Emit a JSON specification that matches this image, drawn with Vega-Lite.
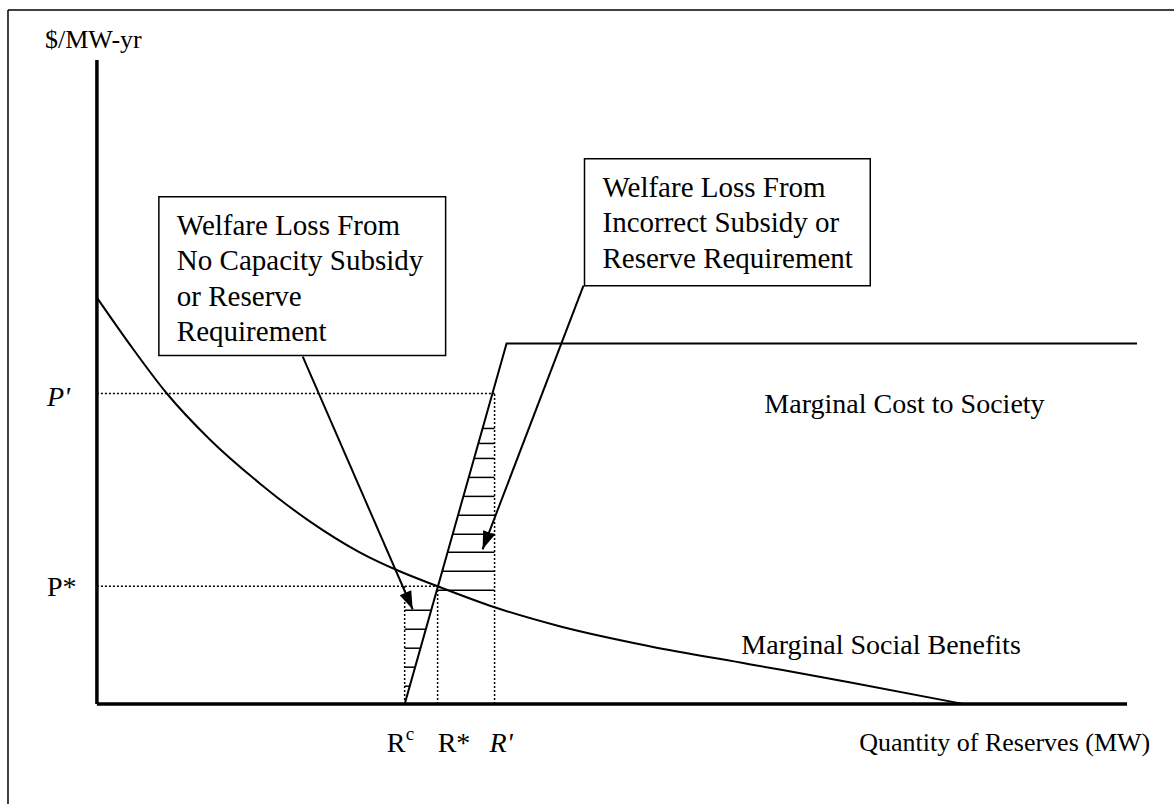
{
  "$schema": "https://vega.github.io/schema/vega-lite/v6.json",
  "width": 1175,
  "height": 805,
  "autosize": {"type": "fit", "contains": "padding"},
  "padding": 0,
  "background": "white",
  "config": {"view": {"stroke": null}},
  "datasets": {
    "frame": [
      {"x": -89, "x2": 1078, "y": 695, "y2": 695},
      {"x": -89, "x2": -89, "y": 695, "y2": -100}
    ],
    "axes": [
      {"x": 0, "x2": 0, "y": 0, "y2": 645},
      {"x": 0, "x2": 1031, "y": 0, "y2": 0}
    ],
    "msb": [
      {"q": 0, "p": 407}, {"q": 33, "p": 360}, {"q": 70, "p": 311}, {"q": 113, "p": 265},
      {"q": 163, "p": 221}, {"q": 213, "p": 183}, {"q": 263, "p": 152}, {"q": 303, "p": 133},
      {"q": 341, "p": 118}, {"q": 398, "p": 97}, {"q": 463, "p": 78}, {"q": 553, "p": 58},
      {"q": 653, "p": 40}, {"q": 753, "p": 22}, {"q": 868, "p": 0}
    ],
    "mc": [
      {"i": 1, "q": 308, "p": 0}, {"i": 2, "q": 410, "p": 361}, {"i": 3, "q": 1041, "p": 361}
    ],
    "dotted": [
      {"x": 0, "x2": 398, "y": 311, "y2": 311},
      {"x": 398, "x2": 398, "y": 0, "y2": 311},
      {"x": 0, "x2": 341, "y": 118, "y2": 118},
      {"x": 341, "x2": 341, "y": 0, "y2": 118},
      {"x": 308, "x2": 308, "y": 0, "y2": 118}
    ],
    "hatch": [
      {"x": 386, "x2": 398, "y": 276}, {"x": 381.7, "x2": 398, "y": 261},
      {"x": 377.5, "x2": 398, "y": 246}, {"x": 372, "x2": 398, "y": 227},
      {"x": 366.8, "x2": 398, "y": 208}, {"x": 361.4, "x2": 398, "y": 189},
      {"x": 356, "x2": 398, "y": 170}, {"x": 351, "x2": 398, "y": 152},
      {"x": 345.6, "x2": 398, "y": 133}, {"x": 340.2, "x2": 398, "y": 114},
      {"x": 308, "x2": 334.6, "y": 94}, {"x": 308, "x2": 329.2, "y": 75},
      {"x": 308, "x2": 323.8, "y": 56}, {"x": 308, "x2": 318.5, "y": 37},
      {"x": 308, "x2": 313.1, "y": 18}
    ],
    "boxes": [
      {"x": 62, "x2": 349, "y": 508, "y2": 349},
      {"x": 488, "x2": 774, "y": 546, "y2": 419}
    ],
    "boxtext": [
      {"x": 80, "y": 470, "t": "Welfare Loss From"},
      {"x": 80, "y": 434.5, "t": "No Capacity Subsidy"},
      {"x": 80, "y": 399, "t": "or Reserve"},
      {"x": 80, "y": 363.5, "t": "Requirement"},
      {"x": 506, "y": 508, "t": "Welfare Loss From"},
      {"x": 506, "y": 472.5, "t": "Incorrect Subsidy or"},
      {"x": 506, "y": 437, "t": "Reserve Requirement"}
    ],
    "arrows": [
      {"x": 206, "x2": 316, "y": 348, "y2": 95},
      {"x": 487, "x2": 386, "y": 419, "y2": 155}
    ],
    "head1": [{"x": 316, "y": 95}],
    "head2": [{"x": 386, "y": 155}],
    "labels": [
      {"x": -50, "y": 108, "t": "P*"},
      {"x": 290, "y": -48, "t": "R"},
      {"x": 341, "y": -48, "t": "R*"},
      {"x": 668, "y": 291, "t": "Marginal Cost to Society"},
      {"x": 645, "y": 50, "t": "Marginal Social Benefits"}
    ],
    "ylabel": [{"x": -52, "y": 657, "t": "$/MW-yr"}],
    "italic": [
      {"x": -50, "y": 298, "t": "P'"},
      {"x": 393, "y": -48, "t": "R'"}
    ],
    "sup": [{"x": 309, "y": -36, "t": "c"}],
    "xtitle": [{"x": 763, "y": -47, "t": "Quantity of Reserves (MW)"}]
  },
  "layer": [
    {
      "data": {"name": "frame"},
      "mark": {"type": "rule", "stroke": "black", "strokeWidth": 1.5},
      "encoding": {
        "x": {"field": "x", "type": "quantitative", "scale": {"domain": [-97, 1078], "nice": false, "zero": false}, "axis": null},
        "x2": {"field": "x2"},
        "y": {"field": "y", "type": "quantitative", "scale": {"domain": [-100, 705], "nice": false, "zero": false}, "axis": null},
        "y2": {"field": "y2"}
      }
    },
    {
      "data": {"name": "dotted"},
      "mark": {"type": "rule", "stroke": "black", "strokeWidth": 1.5, "strokeDash": [2, 2]},
      "encoding": {
        "x": {"field": "x", "type": "quantitative", "scale": {"domain": [-97, 1078], "nice": false, "zero": false}, "axis": null},
        "x2": {"field": "x2"},
        "y": {"field": "y", "type": "quantitative", "scale": {"domain": [-100, 705], "nice": false, "zero": false}, "axis": null},
        "y2": {"field": "y2"}
      }
    },
    {
      "data": {"name": "hatch"},
      "mark": {"type": "rule", "stroke": "black", "strokeWidth": 1.5},
      "encoding": {
        "x": {"field": "x", "type": "quantitative", "scale": {"domain": [-97, 1078], "nice": false, "zero": false}, "axis": null},
        "x2": {"field": "x2"},
        "y": {"field": "y", "type": "quantitative", "scale": {"domain": [-100, 705], "nice": false, "zero": false}, "axis": null}
      }
    },
    {
      "data": {"name": "axes"},
      "mark": {"type": "rule", "stroke": "black", "strokeWidth": 3.5},
      "encoding": {
        "x": {"field": "x", "type": "quantitative", "scale": {"domain": [-97, 1078], "nice": false, "zero": false}, "axis": null},
        "x2": {"field": "x2"},
        "y": {"field": "y", "type": "quantitative", "scale": {"domain": [-100, 705], "nice": false, "zero": false}, "axis": null},
        "y2": {"field": "y2"}
      }
    },
    {
      "data": {"name": "msb"},
      "mark": {"type": "line", "stroke": "black", "strokeWidth": 2, "interpolate": "monotone"},
      "encoding": {
        "x": {"field": "q", "type": "quantitative", "scale": {"domain": [-97, 1078], "nice": false, "zero": false}, "axis": null},
        "y": {"field": "p", "type": "quantitative", "scale": {"domain": [-100, 705], "nice": false, "zero": false}, "axis": null},
        "order": {"field": "q"}
      }
    },
    {
      "data": {"name": "mc"},
      "mark": {"type": "line", "stroke": "black", "strokeWidth": 2},
      "encoding": {
        "x": {"field": "q", "type": "quantitative", "scale": {"domain": [-97, 1078], "nice": false, "zero": false}, "axis": null},
        "y": {"field": "p", "type": "quantitative", "scale": {"domain": [-100, 705], "nice": false, "zero": false}, "axis": null},
        "order": {"field": "i"}
      }
    },
    {
      "data": {"name": "arrows"},
      "mark": {"type": "rule", "stroke": "black", "strokeWidth": 2},
      "encoding": {
        "x": {"field": "x", "type": "quantitative", "scale": {"domain": [-97, 1078], "nice": false, "zero": false}, "axis": null},
        "x2": {"field": "x2"},
        "y": {"field": "y", "type": "quantitative", "scale": {"domain": [-100, 705], "nice": false, "zero": false}, "axis": null},
        "y2": {"field": "y2"}
      }
    },
    {
      "data": {"name": "head1"},
      "mark": {"type": "point", "shape": "M0,0L-0.35,-1L0.35,-1Z", "filled": true, "fill": "black", "stroke": null, "size": 1296, "opacity": 1, "angle": -23.5},
      "encoding": {
        "x": {"field": "x", "type": "quantitative", "scale": {"domain": [-97, 1078], "nice": false, "zero": false}, "axis": null},
        "y": {"field": "y", "type": "quantitative", "scale": {"domain": [-100, 705], "nice": false, "zero": false}, "axis": null}
      }
    },
    {
      "data": {"name": "head2"},
      "mark": {"type": "point", "shape": "M0,0L-0.35,-1L0.35,-1Z", "filled": true, "fill": "black", "stroke": null, "size": 1296, "opacity": 1, "angle": 20.9},
      "encoding": {
        "x": {"field": "x", "type": "quantitative", "scale": {"domain": [-97, 1078], "nice": false, "zero": false}, "axis": null},
        "y": {"field": "y", "type": "quantitative", "scale": {"domain": [-100, 705], "nice": false, "zero": false}, "axis": null}
      }
    },
    {
      "data": {"name": "boxes"},
      "mark": {"type": "rect", "fill": "white", "stroke": "black", "strokeWidth": 1.5},
      "encoding": {
        "x": {"field": "x", "type": "quantitative", "scale": {"domain": [-97, 1078], "nice": false, "zero": false}, "axis": null},
        "x2": {"field": "x2"},
        "y": {"field": "y", "type": "quantitative", "scale": {"domain": [-100, 705], "nice": false, "zero": false}, "axis": null},
        "y2": {"field": "y2"}
      }
    },
    {
      "data": {"name": "boxtext"},
      "mark": {"type": "text", "font": "Liberation Serif", "fontSize": 29, "align": "left", "baseline": "alphabetic", "fill": "black"},
      "encoding": {
        "x": {"field": "x", "type": "quantitative", "scale": {"domain": [-97, 1078], "nice": false, "zero": false}, "axis": null},
        "y": {"field": "y", "type": "quantitative", "scale": {"domain": [-100, 705], "nice": false, "zero": false}, "axis": null},
        "text": {"field": "t"}
      }
    },
    {
      "data": {"name": "labels"},
      "mark": {"type": "text", "font": "Liberation Serif", "fontSize": 28, "align": "left", "baseline": "alphabetic", "fill": "black"},
      "encoding": {
        "x": {"field": "x", "type": "quantitative", "scale": {"domain": [-97, 1078], "nice": false, "zero": false}, "axis": null},
        "y": {"field": "y", "type": "quantitative", "scale": {"domain": [-100, 705], "nice": false, "zero": false}, "axis": null},
        "text": {"field": "t"}
      }
    },
    {
      "data": {"name": "ylabel"},
      "mark": {"type": "text", "font": "Liberation Serif", "fontSize": 26, "align": "left", "baseline": "alphabetic", "fill": "black"},
      "encoding": {
        "x": {"field": "x", "type": "quantitative", "scale": {"domain": [-97, 1078], "nice": false, "zero": false}, "axis": null},
        "y": {"field": "y", "type": "quantitative", "scale": {"domain": [-100, 705], "nice": false, "zero": false}, "axis": null},
        "text": {"field": "t"}
      }
    },
    {
      "data": {"name": "italic"},
      "mark": {"type": "text", "font": "Liberation Serif", "fontSize": 28, "fontStyle": "italic", "align": "left", "baseline": "alphabetic", "fill": "black"},
      "encoding": {
        "x": {"field": "x", "type": "quantitative", "scale": {"domain": [-97, 1078], "nice": false, "zero": false}, "axis": null},
        "y": {"field": "y", "type": "quantitative", "scale": {"domain": [-100, 705], "nice": false, "zero": false}, "axis": null},
        "text": {"field": "t"}
      }
    },
    {
      "data": {"name": "sup"},
      "mark": {"type": "text", "font": "Liberation Serif", "fontSize": 19, "align": "left", "baseline": "alphabetic", "fill": "black"},
      "encoding": {
        "x": {"field": "x", "type": "quantitative", "scale": {"domain": [-97, 1078], "nice": false, "zero": false}, "axis": null},
        "y": {"field": "y", "type": "quantitative", "scale": {"domain": [-100, 705], "nice": false, "zero": false}, "axis": null},
        "text": {"field": "t"}
      }
    },
    {
      "data": {"name": "xtitle"},
      "mark": {"type": "text", "font": "Liberation Serif", "fontSize": 26, "align": "left", "baseline": "alphabetic", "fill": "black"},
      "encoding": {
        "x": {"field": "x", "type": "quantitative", "scale": {"domain": [-97, 1078], "nice": false, "zero": false}, "axis": null},
        "y": {"field": "y", "type": "quantitative", "scale": {"domain": [-100, 705], "nice": false, "zero": false}, "axis": null},
        "text": {"field": "t"}
      }
    }
  ]
}
